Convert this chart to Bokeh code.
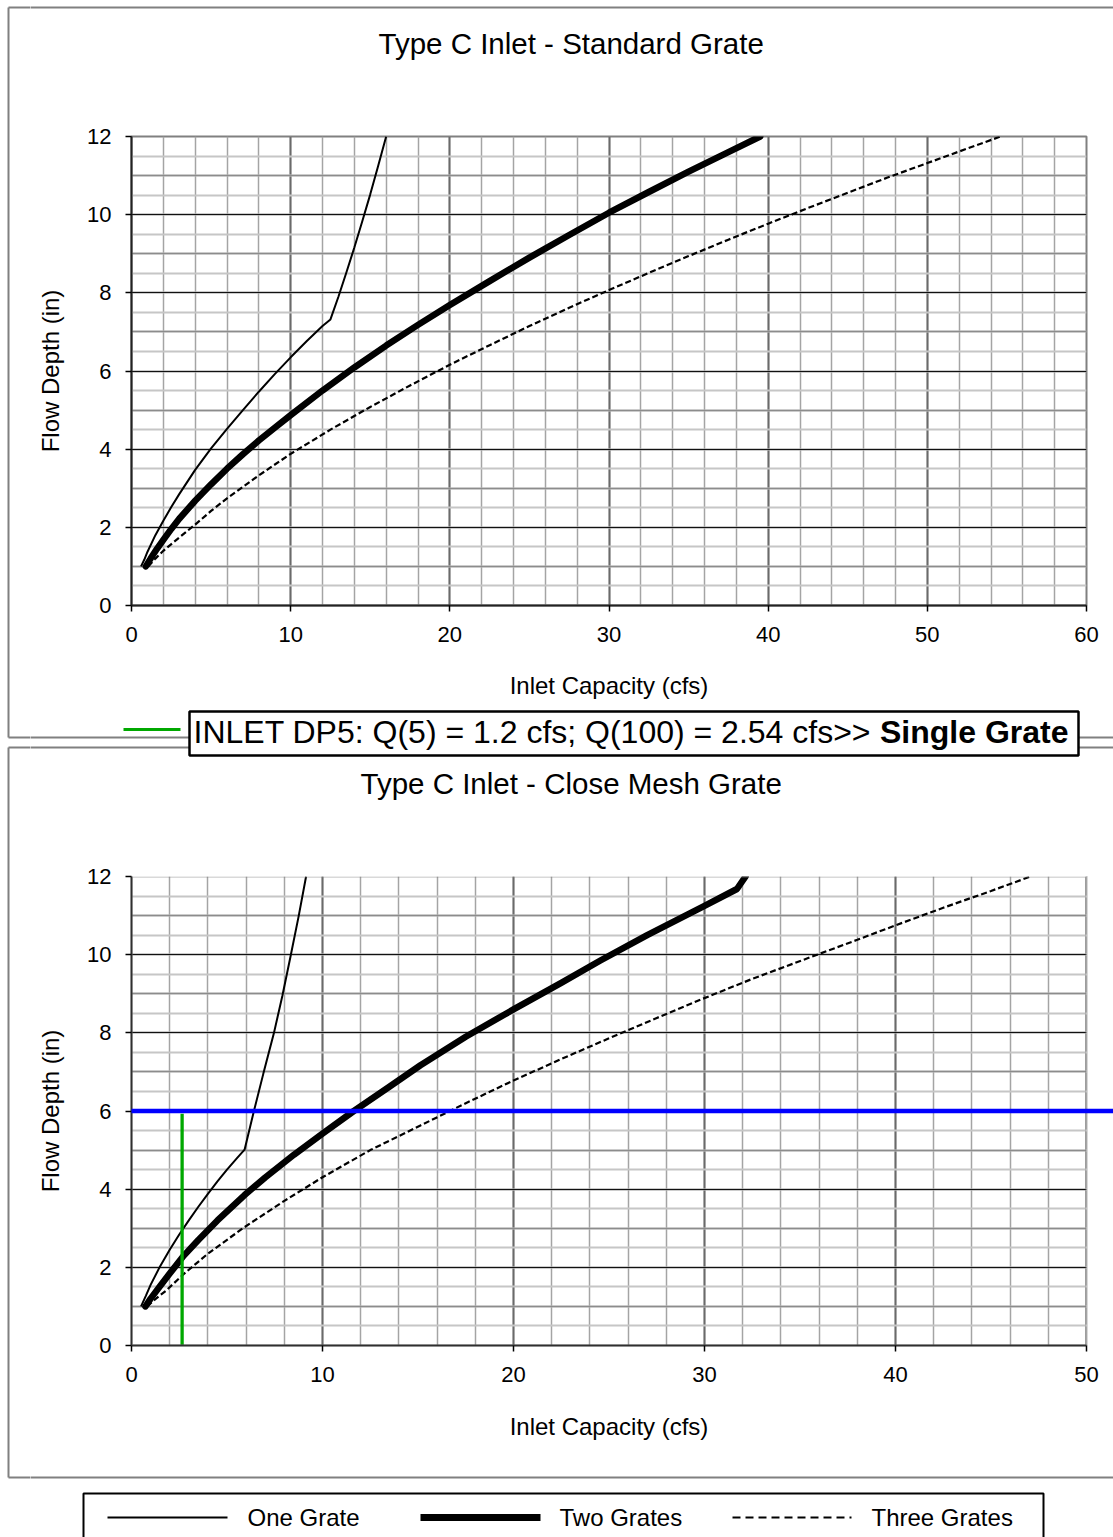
from bokeh.plotting import figure
from bokeh.layouts import column, row
from bokeh.models import Range1d, SingleIntervalTicker, Grid, BoxAnnotation
from bokeh.core.properties import value
from bokeh.embed import file_html
from bokeh.resources import INLINE

# ------------------------------------------------------------------ data
# Standard grate: inlet capacity (cfs) vs flow depth (in)
STD_ONE_Q = [0.6, 0.8, 1.0, 1.5, 2.0, 2.5, 3.0, 4.0, 5.0, 6.0, 7.0, 8.0, 9.0, 10.0, 11.0, 12.0, 12.5,
             13.0, 13.5, 14.0, 14.5, 15.0, 15.5, 16.0]
STD_ONE_H = [1.0, 1.17, 1.37, 1.8, 2.17, 2.52, 2.85, 3.47, 4.02, 4.52, 5.0, 5.47, 5.92, 6.35, 6.76, 7.15, 7.32,
             7.9, 8.52, 9.16, 9.83, 10.52, 11.25, 12.0]
STD_TWO_Q = [0.9, 1.2, 1.6, 2.0, 2.5, 3.0, 4.0, 5.0, 6.0, 7.0, 8.0, 9.0, 10.0, 12.0, 14.0, 16.0, 18.0,
             20.0, 22.5, 25.0, 27.5, 30.0, 32.5, 35.0, 37.5, 39.5]
STD_TWO_H = [1.0, 1.2, 1.45, 1.68, 1.96, 2.22, 2.68, 3.1, 3.5, 3.87, 4.22, 4.55, 4.87, 5.5, 6.09, 6.65, 7.18,
             7.69, 8.3, 8.9, 9.48, 10.05, 10.58, 11.1, 11.6, 12.0]
STD_THREE_Q = [1.05, 1.5, 2.0, 3.0, 4.0, 5.0, 6.0, 8.0, 10.0, 12.5, 15.0, 17.5, 20.0, 22.5, 25.0, 27.5,
               30.0, 32.5, 35.0, 37.5, 40.0, 42.5, 45.0, 47.5, 50.0, 52.5, 54.6]
STD_THREE_H = [1.0, 1.2, 1.4, 1.74, 2.07, 2.42, 2.74, 3.33, 3.88, 4.5, 5.08, 5.63, 6.16, 6.66, 7.15, 7.62,
               8.07, 8.51, 8.94, 9.36, 9.77, 10.17, 10.56, 10.95, 11.32, 11.69, 12.0]

# Close mesh grate
CM_ONE_Q = [0.5, 0.75, 1.0, 1.5, 2.0, 2.5, 3.0, 3.5, 4.0, 4.5, 5.0, 5.5, 5.92, 6.4, 6.9, 7.45, 7.9,
            8.32, 8.75, 9.14]
CM_ONE_H = [1.0, 1.27, 1.55, 2.03, 2.45, 2.84, 3.2, 3.55, 3.88, 4.2, 4.5, 4.78, 5.01, 5.98, 6.95, 7.98, 8.95,
            9.94, 10.98, 12.0]
CM_TWO_Q = [0.73, 1.0, 1.5, 2.0, 2.74, 3.5, 4.5, 5.92, 7.0, 8.5, 10.0, 11.64, 13.5, 15.13, 17.5, 20.0,
            22.5, 24.55, 27.0, 30.0, 31.7, 32.15]
CM_TWO_H = [1.0, 1.2, 1.52, 1.84, 2.3, 2.7, 3.2, 3.85, 4.3, 4.88, 5.42, 6.0, 6.62, 7.17, 7.9, 8.6,
            9.28, 9.85, 10.5, 11.25, 11.68, 12.0]
CM_THREE_Q = [0.82, 1.2, 1.8, 2.74, 4.0, 5.92, 8.0, 10.02, 12.5, 15.13, 17.5, 20.0, 22.5, 25.0, 27.5,
              29.8, 32.5, 35.9, 38.0, 40.0, 42.5, 45.0, 47.07]
CM_THREE_H = [1.0, 1.17, 1.4, 1.83, 2.35, 3.03, 3.7, 4.31, 5.0, 5.63, 6.2, 6.78, 7.33, 7.86, 8.38,
              8.85, 9.38, 10.0, 10.38, 10.75, 11.2, 11.63, 12.0]

DESIGN_DEPTH = 6.0          # blue horizontal line (in)
REQ_Q = 2.65                # green vertical line (cfs)
REQ_Q_TOP = 5.93            # top of green line (in)

TITLE_STD = "Type C Inlet - Standard Grate"
TITLE_CM = "Type C Inlet - Close Mesh Grate"
X_LABEL = "Inlet Capacity (cfs)"
Y_LABEL = "Flow Depth (in)"
SERIES = ["One Grate", "Two Grates", "Three Grates"]
NOTE_MAIN = "INLET DP5: Q(5) = 1.2 cfs; Q(100) = 2.54 cfs>> "
NOTE_BOLD = "Single Grate"
STD_XMAX = 60
CM_XMAX = 50
YMAX = 12

# ------------------------------------------------------------------ layout / style
W = 1113
PAGE_H = 1537
FONT = "Liberation Sans"
LEFT_STRIP = 30                       # page x where the right-hand column starts
PANEL_X = 8                           # page x of the panels' left border
PANEL1_Y = (7, 737)                   # page y of the first panel's top / bottom border
PANEL2_Y = (747, 1477)                # page y of the second panel's top / bottom border
FRAME_L, FRAME_R = 131, 1086          # page x of plot area
FRAME_W = FRAME_R - FRAME_L
FRAME_H = 469
PANEL_GRAY = "#808080"
GREEN = "#00a800"
RIGHT_W = W - LEFT_STRIP

STYLES = [
    dict(line_color="black", line_width=2),
    dict(line_color="black", line_width=6.5, line_cap="round", line_join="round"),
    dict(line_color="black", line_width=2.2, line_dash="6 3"),
]

COMMON = dict(toolbar_location=None, output_backend="svg", frame_align=False,
              background_fill_color="white", border_fill_color="white")


def strip(x0, w, h):
    """Decoration strip whose x data equals page pixels and y data equals local pixels (down)."""
    return figure(width=w, height=h, x_range=Range1d(x0, x0 + w), y_range=Range1d(h, 0),
                  x_axis_type=None, y_axis_type=None, min_border=0,
                  outline_line_color=None, **COMMON)


def make_chart(xmax, curves, canvas_h, frame_top, extend_right, with_xlabel):
    frame_bottom = frame_top + FRAME_H
    right_border = 0 if extend_right else W - FRAME_R
    frame_w_px = W - FRAME_L - right_border
    x_end = xmax * frame_w_px / FRAME_W
    p = figure(width=RIGHT_W, height=canvas_h,
               x_range=Range1d(0, x_end), y_range=Range1d(0, YMAX),
               min_border_left=FRAME_L - LEFT_STRIP, min_border_right=right_border,
               min_border_top=frame_top, min_border_bottom=canvas_h - frame_bottom,
               outline_line_color=None if extend_right else PANEL_GRAY, outline_line_width=2,
               **COMMON)

    xa = p.xaxis[0]
    ya = p.yaxis[0]
    xa.ticker = SingleIntervalTicker(interval=10, num_minor_ticks=5)
    ya.ticker = SingleIntervalTicker(interval=2, num_minor_ticks=4)
    xa.bounds = (0, xmax)
    for ax in (xa, ya):
        ax.major_tick_out = 6
        ax.major_tick_in = 0
        ax.minor_tick_line_color = None
        ax.major_tick_line_color = "black"
        ax.major_tick_line_width = 1.5
        ax.axis_line_color = "#222222"
        ax.axis_line_width = 2
        ax.major_label_text_font = FONT
        ax.major_label_text_font_size = "22px"
        ax.major_label_text_color = "black"
        ax.axis_label_text_font = FONT
        ax.axis_label_text_font_size = "24px"
        ax.axis_label_text_font_style = "normal"
        ax.axis_label_text_color = "black"
    if with_xlabel:
        xa.axis_label = X_LABEL
    ya.axis_label = Y_LABEL
    xa.major_label_standoff = 15
    xa.axis_label_standoff = 27
    ya.major_label_standoff = 14
    ya.axis_label_standoff = 20

    # grid: vertical every 2 (minor) / 10 (major); horizontal 0.5 / 1 / 2
    p.xgrid.grid_line_color = "#6a6a6a"
    p.xgrid.grid_line_width = 2
    p.xgrid.minor_grid_line_color = "#a4a4a4"
    p.xgrid.minor_grid_line_width = 1.5
    p.ygrid.ticker = SingleIntervalTicker(interval=1, num_minor_ticks=2)
    p.ygrid.grid_line_color = "#8c8c8c"
    p.ygrid.grid_line_width = 1.5
    p.ygrid.minor_grid_line_color = "#c6c6c6"
    p.ygrid.minor_grid_line_width = 2
    p.add_layout(Grid(dimension=1, ticker=SingleIntervalTicker(interval=2),
                      grid_line_color="#111111", grid_line_width=1.2))

    for (q, h), st, name in zip(curves, STYLES, SERIES):
        p.line(q, h, name=name, **st)

    if extend_right:
        # blank the strip of plot area right of the last tick, then draw the frame border
        p.add_layout(BoxAnnotation(left=xmax, fill_color="white", fill_alpha=1.0,
                                   line_color=None, level="underlay"))
        p.add_layout(BoxAnnotation(left=0, right=xmax, bottom=0, top=YMAX, fill_color=None,
                                   line_color=PANEL_GRAY, line_width=3))
    return p


# right column rows (page y): 0-100 | 100-708 | 708-830 | 830-1400 | 1400-1537
S0_H, A_H, S1_H, B_H, S2_H = 100, 608, 122, 570, 137
Y_S1 = S0_H + A_H
Y_S2 = S0_H + A_H + S1_H + B_H

# --- left strip: the panels' left borders over the whole page height
left = strip(0, LEFT_STRIP, PAGE_H)
left.segment(x0=[PANEL_X, PANEL_X], y0=[PANEL1_Y[0], PANEL2_Y[0]],
             x1=[PANEL_X, PANEL_X], y1=[PANEL1_Y[1], PANEL2_Y[1]],
             line_color=PANEL_GRAY, line_width=2)
left.segment(x0=[PANEL_X] * 4, y0=[PANEL1_Y[0], PANEL1_Y[1], PANEL2_Y[0], PANEL2_Y[1]],
             x1=[LEFT_STRIP + 2] * 4, y1=[PANEL1_Y[0], PANEL1_Y[1], PANEL2_Y[0], PANEL2_Y[1]],
             line_color=PANEL_GRAY, line_width=2)

# --- top strip: panel border + title of the first chart
s0 = strip(LEFT_STRIP, RIGHT_W, S0_H)
s0.segment(x0=[LEFT_STRIP - 2], y0=[PANEL1_Y[0]], x1=[W + 5], y1=[PANEL1_Y[0]],
           line_color=PANEL_GRAY, line_width=2)
s0.text(x=[378], y=[42.5], text=[TITLE_STD], text_font=value(FONT), text_font_size="29.5px",
        text_align="left", text_baseline="middle", text_color="black")

# --- first chart
p_top = make_chart(STD_XMAX, [(STD_ONE_Q, STD_ONE_H), (STD_TWO_Q, STD_TWO_H), (STD_THREE_Q, STD_THREE_H)],
                   A_H, 136 - S0_H, False, True)

# --- middle strip: panel borders, note box, second title
s1 = strip(LEFT_STRIP, RIGHT_W, S1_H)
s1.segment(x0=[LEFT_STRIP - 2] * 2, y0=[PANEL1_Y[1] - Y_S1, PANEL2_Y[0] - Y_S1],
           x1=[W + 5] * 2, y1=[PANEL1_Y[1] - Y_S1, PANEL2_Y[0] - Y_S1],
           line_color=PANEL_GRAY, line_width=2)
s1.segment(x0=[123], y0=[21], x1=[180], y1=[21], line_color=GREEN, line_width=3)
s1.quad(left=[189], right=[1078], top=[3], bottom=[47], fill_color="white",
        line_color="black", line_width=2.5)
s1.text(x=[193], y=[23.5], text=[NOTE_MAIN], text_font=value(FONT), text_font_size="32px",
        text_align="left", text_baseline="middle", text_color="black")
s1.text(x=[1068], y=[23.5], text=[NOTE_BOLD], text_font=value(FONT), text_font_size="32px",
        text_font_style="bold", text_align="right", text_baseline="middle", text_color="black")
s1.text(x=[360], y=[74.5], text=[TITLE_CM], text_font=value(FONT), text_font_size="29.5px",
        text_align="left", text_baseline="middle", text_color="black")

# --- second chart
p_bot = make_chart(CM_XMAX, [(CM_ONE_Q, CM_ONE_H), (CM_TWO_Q, CM_TWO_H), (CM_THREE_Q, CM_THREE_H)],
                   B_H, 876 - Y_S1 - S1_H, True, False)
p_bot.line([REQ_Q, REQ_Q], [0, REQ_Q_TOP], line_color=GREEN, line_width=3.3)
p_bot.add_layout(BoxAnnotation(left=-0.1, top=DESIGN_DEPTH + 0.06, bottom=DESIGN_DEPTH - 0.06,
                               fill_color="#0000ff", fill_alpha=1.0, line_color=None))

# --- bottom strip: x label of second chart, panel border, legend
s2 = strip(LEFT_STRIP, RIGHT_W, S2_H)
s2.text(x=[(FRAME_L + FRAME_R) / 2], y=[26], text=[X_LABEL], text_font=value(FONT), text_font_size="24px",
        text_align="center", text_baseline="middle", text_color="black")
s2.segment(x0=[LEFT_STRIP - 2], y0=[PANEL2_Y[1] - Y_S2], x1=[W + 5], y1=[PANEL2_Y[1] - Y_S2],
           line_color=PANEL_GRAY, line_width=2)
s2.quad(left=[83], right=[1043], top=[93], bottom=[S2_H + 20], fill_color=None,
        line_color="black", line_width=2)
LEG_Y = 117
leg_lines = [(107, 227), (420, 540), (732, 851)]
leg_text_x = [247, 559, 871]
leg_styles = [
    dict(line_color="black", line_width=2),
    dict(line_color="black", line_width=7),
    dict(line_color="black", line_width=2, line_dash="8 5"),
]
for (x0, x1), st in zip(leg_lines, leg_styles):
    s2.line([x0, x1], [LEG_Y, LEG_Y], **st)
s2.text(x=leg_text_x, y=[LEG_Y] * 3, text=SERIES, text_font=value(FONT), text_font_size="24px",
        text_align="left", text_baseline="middle", text_color="black")

right = column(s0, p_top, s1, p_bot, s2, spacing=0)
layout = row(left, right, spacing=0)
open("out.html", "w").write(file_html(layout, INLINE))
